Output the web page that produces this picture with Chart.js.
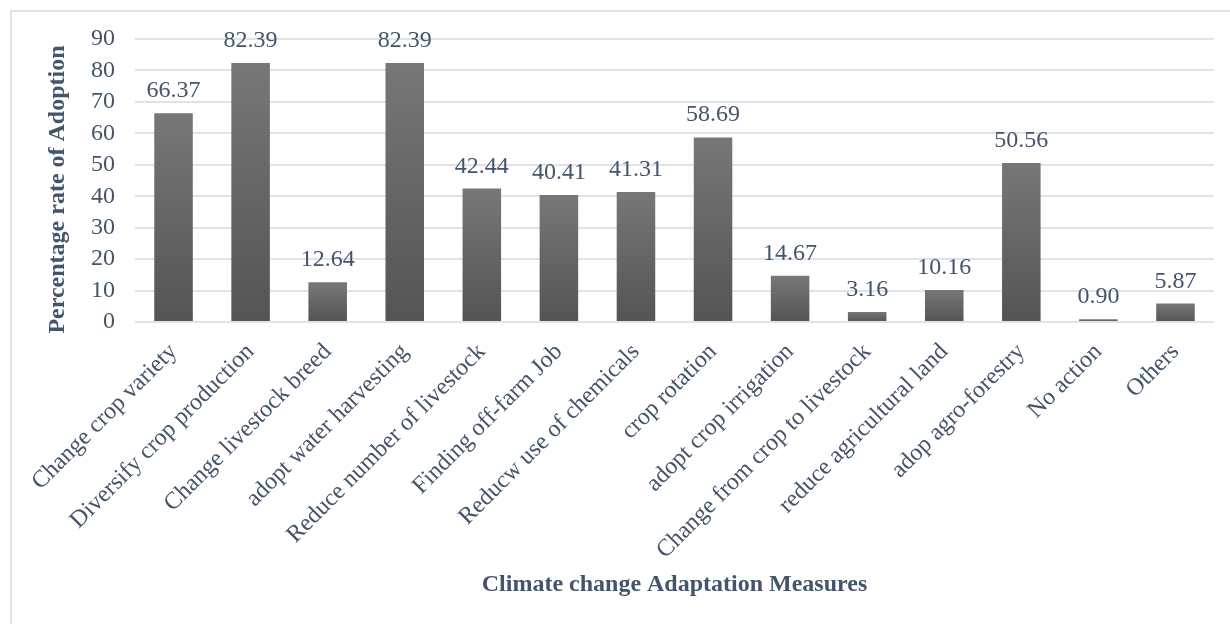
<!DOCTYPE html>
<html>
<head>
<meta charset="utf-8">
<script src="https://cdn.jsdelivr.net/npm/chart.js@4/dist/chart.umd.min.js"></script>
<style>
  html, body { margin: 0; padding: 0; background: #ffffff; overflow: hidden; }
  #wrap { position: relative; width: 1230px; height: 624px; overflow: hidden; }
  #frame { position: absolute; left: 10px; top: 10px; width: 1400px; height: 800px;
           border: 2px solid #dde2ea; box-sizing: border-box; }
  #chart { position: absolute; left: 0; top: 0; }
</style>
</head>
<body>
<div id="wrap">
  <div id="frame"></div>
  <canvas id="chart" width="1230" height="624"></canvas>
</div>
<script>
// Adaptation measures and the share of households adopting each (%)
const measures = [
  'Change crop variety',
  'Diversify crop production',
  'Change livestock breed',
  'adopt water harvesting',
  'Reduce number of livestock',
  'Finding off-farm Job',
  'Reducw use of chemicals',
  'crop rotation',
  'adopt crop irrigation',
  'Change from crop to livestock',
  'reduce agricultural land',
  'adop agro-forestry',
  'No action',
  'Others'
];
const adoptionRates = [66.37, 82.39, 12.64, 82.39, 42.44, 40.41, 41.31, 58.69, 14.67, 3.16, 10.16, 50.56, 0.90, 5.87];
const yTicks = [0, 10, 20, 30, 40, 50, 60, 70, 80, 90];

const TEXT = '#44546a';
const GRID = '#e0e3e9';
const SERIF = "'Liberation Serif', 'Times New Roman', serif";

// Each bar gets its own vertical gradient, lighter at the top
function barFill(context) {
  const chart = context.chart;
  const y = chart.scales.y;
  if (!y || context.raw === undefined) return '#666666';
  const top = y.getPixelForValue(context.raw);
  const base = y.getPixelForValue(0);
  if (!isFinite(top) || !isFinite(base) || top === base) return '#666666';
  const g = chart.ctx.createLinearGradient(0, top, 0, base);
  g.addColorStop(0, '#777777');
  g.addColorStop(1, '#545454');
  return g;
}

// Value labels above every bar
const valueLabels = {
  id: 'valueLabels',
  afterDatasetsDraw(chart) {
    const ctx = chart.ctx;
    const meta = chart.getDatasetMeta(0);
    ctx.save();
    ctx.font = '24px ' + SERIF;
    ctx.fillStyle = TEXT;
    ctx.textAlign = 'center';
    ctx.textBaseline = 'alphabetic';
    meta.data.forEach((bar, i) => {
      ctx.fillText(adoptionRates[i].toFixed(2), bar.x, bar.y - 16);
    });
    ctx.restore();
  }
};

new Chart(document.getElementById('chart'), {
  type: 'bar',
  data: {
    labels: measures,
    datasets: [{
      data: adoptionRates,
      backgroundColor: barFill,
      borderWidth: 0,
      barPercentage: 0.5,
      categoryPercentage: 1.0
    }]
  },
  options: {
    responsive: false,
    animation: false,
    events: [],
    layout: { padding: { left: 0, top: 39, right: 16, bottom: 0 } },
    plugins: {
      legend: { display: false },
      tooltip: { enabled: false }
    },
    scales: {
      x: {
        grid: { display: false, drawTicks: false },
        border: { display: false },
        ticks: {
          autoSkip: false,
          maxRotation: 45,
          minRotation: 45,
          padding: 16,
          color: TEXT,
          font: { family: SERIF, size: 24 }
        },
        title: {
          display: true,
          text: 'Climate change Adaptation Measures',
          color: TEXT,
          font: { family: SERIF, size: 24, weight: 'bold' },
          padding: { top: 0, bottom: 24.6 }
        },
        afterFit(scale) { scale.height = 302; }
      },
      y: {
        min: 0,
        max: 90,
        afterBuildTicks(scale) { scale.ticks = yTicks.map(v => ({ value: v })); },
        grid: { color: GRID, lineWidth: 2, drawTicks: false },
        border: { display: false },
        ticks: {
          autoSkip: false,
          padding: 20,
          color: TEXT,
          font: { family: SERIF, size: 24 }
        },
        title: {
          display: true,
          text: 'Percentage rate of Adoption\u00a0\u00a0\u00a0',
          color: TEXT,
          font: { family: SERIF, size: 24, weight: 'bold' },
          padding: { top: 43.6, bottom: 0 }
        },
        afterFit(scale) { scale.width = 135; }
      }
    }
  },
  plugins: [valueLabels]
});
</script>
</body>
</html>
